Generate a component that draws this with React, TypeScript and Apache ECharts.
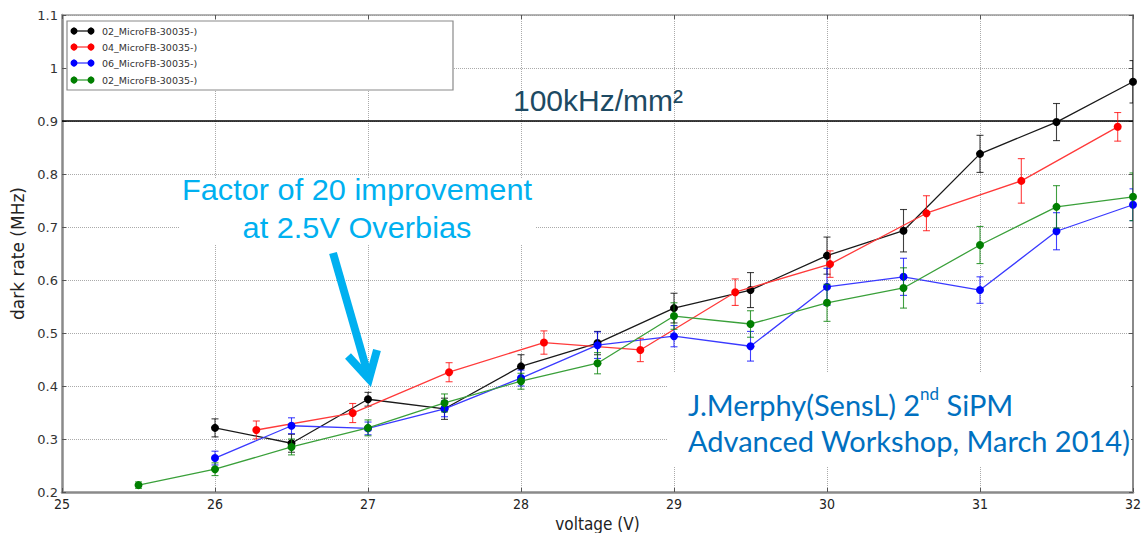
import React, { useEffect, useRef } from "react";
import * as echarts from "echarts";

// ---- data ----
const X_BLACK = [26, 26.5, 27, 27.5, 28, 28.5, 29, 29.5, 30, 30.5, 31, 31.5, 32];
const Y_BLACK = [0.321, 0.292, 0.375, 0.357, 0.437, 0.481, 0.547, 0.581, 0.646, 0.693, 0.838, 0.898, 0.974];
const E_BLACK = [0.017, 0.017, 0.013, 0.02, 0.022, 0.022, 0.028, 0.033, 0.035, 0.04, 0.035, 0.035, 0.04];

const X_RED = [26.27, 26.9, 27.53, 28.15, 28.78, 29.4, 30.02, 30.65, 31.27, 31.9];
const Y_RED = [0.317, 0.349, 0.426, 0.482, 0.468, 0.577, 0.63, 0.726, 0.787, 0.889];
const E_RED = [0.017, 0.018, 0.018, 0.022, 0.022, 0.025, 0.025, 0.033, 0.042, 0.027];

const X_BLUE = [26, 26.5, 27, 27.5, 28, 28.5, 29, 29.5, 30, 30.5, 31, 31.5, 32];
const Y_BLUE = [0.264, 0.325, 0.32, 0.357, 0.415, 0.477, 0.494, 0.475, 0.587, 0.606, 0.581, 0.692, 0.742];
const E_BLUE = [0.013, 0.015, 0.012, 0.015, 0.015, 0.025, 0.02, 0.028, 0.035, 0.035, 0.025, 0.035, 0.03];

const X_GREEN = [25.5, 26, 26.5, 27, 27.5, 28, 28.5, 29, 29.5, 30, 30.5, 31, 31.5, 32];
const Y_GREEN = [0.213, 0.243, 0.285, 0.321, 0.368, 0.409, 0.443, 0.532, 0.517, 0.557, 0.585, 0.666, 0.738, 0.757];
const E_GREEN = [0.006, 0.012, 0.015, 0.015, 0.017, 0.015, 0.02, 0.025, 0.025, 0.035, 0.038, 0.035, 0.04, 0.045];

const SERIES_NAMES = ["02_MicroFB-30035-)", "04_MicroFB-30035-)", "06_MicroFB-30035-)", "02_MicroFB-30035-)"];
const MARKER_COLORS = ["#000000", "#ff0000", "#0000ff", "#007f00"];
const LINE_COLORS = ["#1a1a1a", "#ff3a3a", "#3a3aff", "#3aa03a"];

const X_MIN = 25;
const X_MAX = 32;
const Y_MIN = 0.2;
const Y_MAX = 1.1;
const THRESHOLD = 0.9;

const THRESHOLD_LABEL = "100kHz/mm²";
const FACTOR_LINES = ["Factor of 20 improvement", "at 2.5V Overbias"];

export default function App() {
  const ref = useRef<HTMLDivElement>(null);

  useEffect(() => {
    if (!ref.current) return;
    const chart = echarts.init(ref.current, undefined, { renderer: "svg" });

    const groups = [
      [X_BLACK, Y_BLACK, E_BLACK],
      [X_RED, Y_RED, E_RED],
      [X_BLUE, Y_BLUE, E_BLUE],
      [X_GREEN, Y_GREEN, E_GREEN],
    ];

    const series: any[] = [];
    groups.forEach((g, i) => {
      const [xs, ys, es] = g;
      const pts = xs.map((x, k) => [x, ys[k]]);
      const errs = xs.map((x, k) => [x, ys[k], es[k]]);
      const ec = MARKER_COLORS[i];
      series.push({
        type: "custom",
        name: SERIES_NAMES[i] + "_err",
        z: 3 + i * 2,
        clip: true,
        data: errs,
        encode: { x: 0, y: 1 },
        renderItem: (params: any, api: any) => {
          const x = api.value(0);
          const y = api.value(1);
          const e = api.value(2);
          const hi = api.coord([x, y + e]);
          const lo = api.coord([x, y - e]);
          const cw = 3.5;
          const st = { stroke: ec, lineWidth: 1.1, opacity: 0.75 };
          return {
            type: "group",
            children: [
              { type: "line", shape: { x1: hi[0], y1: hi[1], x2: lo[0], y2: lo[1] }, style: st },
              { type: "line", shape: { x1: hi[0] - cw, y1: hi[1], x2: hi[0] + cw, y2: hi[1] }, style: st },
              { type: "line", shape: { x1: lo[0] - cw, y1: lo[1], x2: lo[0] + cw, y2: lo[1] }, style: st },
            ],
          };
        },
      });
      const s: any = {
        type: "line",
        name: SERIES_NAMES[i],
        z: 4 + i * 2,
        data: pts,
        symbol: "circle",
        symbolSize: 8,
        showSymbol: true,
        lineStyle: { color: LINE_COLORS[i], width: 1.3 },
        itemStyle: { color: ec },
        clip: true,
      };
      if (i === 0) {
        s.markLine = {
          silent: true,
          symbol: ["none", "none"],
          label: { show: false },
          lineStyle: { color: "#000", type: "solid", width: 1.5 },
          data: [{ yAxis: THRESHOLD }],
        };
      }
      series.push(s);
    });

    // legend drawn as graphic (box extends far right as in reference)
    const legendChildren: any[] = [
      {
        type: "rect",
        shape: { x: 67, y: 21, width: 386, height: 69 },
        style: { fill: "#fff", stroke: "#8a8a8a", lineWidth: 1.2 },
        z: 50,
      },
    ];
    const rowsY = [31, 47, 63, 80];
    SERIES_NAMES.forEach((n, i) => {
      const y = rowsY[i];
      const c = MARKER_COLORS[i];
      legendChildren.push(
        { type: "line", shape: { x1: 74, y1: y, x2: 91, y2: y }, style: { stroke: LINE_COLORS[i], lineWidth: 1.3 }, z: 51 },
        { type: "line", shape: { x1: 74, y1: y - 4, x2: 74, y2: y + 4 }, style: { stroke: c, lineWidth: 1, opacity: 0.6 }, z: 51 },
        { type: "line", shape: { x1: 91, y1: y - 4, x2: 91, y2: y + 4 }, style: { stroke: c, lineWidth: 1, opacity: 0.6 }, z: 51 },
        { type: "circle", shape: { cx: 74, cy: y, r: 3.5 }, style: { fill: c }, z: 52 },
        { type: "circle", shape: { cx: 91, cy: y, r: 3.5 }, style: { fill: c }, z: 52 },
        {
          type: "text",
          x: 102,
          y: y,
          style: {
            text: n,
            fill: "#333",
            font: "9.5px 'DejaVu Sans', sans-serif",
            verticalAlign: "middle",
          },
          z: 52,
        }
      );
    });

    const labelFmt = (v: number) => {
      const s = v.toFixed(1);
      return s.endsWith(".0") ? s.slice(0, -2) : s;
    };

    chart.setOption({
      animation: false,
      backgroundColor: "#fff",
      grid: { left: 62, right: 9, top: 15, bottom: 41, show: false, containLabel: false, outerBoundsMode: "none" },
      xAxis: [
        {
          type: "value",
          min: X_MIN,
          max: X_MAX,
          interval: 1,
          name: "voltage (V)",
          nameLocation: "middle",
          nameGap: 19,
          nameTextStyle: { fontSize: 17, color: "#222", fontFamily: "'DejaVu Sans Condensed', 'Liberation Sans Narrow', 'DejaVu Sans', sans-serif" },
          axisLine: { show: true, onZero: false, lineStyle: { color: "#8a8a8a", width: 2.5 } },
          axisTick: { show: true, inside: true, length: 4, lineStyle: { color: "#555" } },
          axisLabel: { fontSize: 14, color: "#222", margin: 5, fontFamily: "'DejaVu Sans Condensed', 'Liberation Sans Narrow', 'DejaVu Sans', sans-serif" },
          splitLine: { show: true, lineStyle: { color: "#aaa", type: "dotted", width: 1 } },
        },
        {
          type: "value",
          position: "top",
          min: X_MIN,
          max: X_MAX,
          interval: 1,
          axisLine: { show: true, onZero: false, lineStyle: { color: "#9a9a9a", width: 1.5 } },
          axisTick: { show: true, inside: true, length: 4, lineStyle: { color: "#555" } },
          axisLabel: { show: false },
          splitLine: { show: false },
        },
      ],
      yAxis: [
        {
          type: "value",
          min: Y_MIN,
          max: Y_MAX,
          interval: 0.1,
          name: "dark rate (MHz)",
          nameLocation: "middle",
          nameGap: 35,
          nameTextStyle: { fontSize: 17, color: "#222", fontFamily: "'DejaVu Sans', sans-serif" },
          axisLine: { show: true, onZero: false, lineStyle: { color: "#8a8a8a", width: 2.5 } },
          axisTick: { show: true, inside: true, length: 4, lineStyle: { color: "#555" } },
          axisLabel: { fontSize: 13, color: "#333", margin: 4, formatter: labelFmt, fontFamily: "'DejaVu Sans', sans-serif" },
          splitLine: { show: true, lineStyle: { color: "#aaa", type: "dotted", width: 1 } },
        },
        {
          type: "value",
          position: "right",
          min: Y_MIN,
          max: Y_MAX,
          interval: 0.1,
          axisLine: { show: true, onZero: false, lineStyle: { color: "#8a8a8a", width: 2 } },
          axisTick: { show: true, inside: true, length: 4, lineStyle: { color: "#555" } },
          axisLabel: { show: false },
          splitLine: { show: false },
        },
      ],
      series,
      graphic: [
        ...legendChildren,
        // white patch behind the factor text
        { type: "rect", shape: { x: 180, y: 178, width: 355, height: 66 }, style: { fill: "#fff" }, z: 1 },
        {
          type: "text",
          x: 357,
          y: 190,
          scaleX: 1.06,
          style: {
            text: FACTOR_LINES[0],
            fill: "#00b0f0",
            font: "29px 'Liberation Sans', Arial, sans-serif",
            align: "center",
            verticalAlign: "middle",
          },
          z: 60,
        },
        {
          type: "text",
          x: 357,
          y: 228,
          scaleX: 1.06,
          style: {
            text: FACTOR_LINES[1],
            fill: "#00b0f0",
            font: "29px 'Liberation Sans', Arial, sans-serif",
            align: "center",
            verticalAlign: "middle",
          },
          z: 60,
        },
        // arrow
        {
          type: "line",
          shape: { x1: 333, y1: 253, x2: 367, y2: 371 },
          style: { stroke: "#00b0f0", lineWidth: 8, lineCap: "butt" },
          z: 60,
        },
        {
          type: "polyline",
          shape: { points: [[348, 356], [369, 379], [377, 350]] },
          style: { stroke: "#00b0f0", lineWidth: 8, lineJoin: "miter", lineCap: "butt", fill: "none" },
          z: 60,
        },
        // threshold label
        {
          type: "text",
          x: 513,
          y: 100,
          style: {
            text: THRESHOLD_LABEL,
            fill: "#1d4a63",
            font: "30px 'Liberation Sans', Arial, sans-serif",
            verticalAlign: "middle",
          },
          z: 60,
        },
        // credit box
        { type: "rect", shape: { x: 668, y: 373, width: 463, height: 93 }, style: { fill: "#fff" }, z: 1 },
        {
          type: "text",
          x: 688,
          y: 402,
          style: {
            text: "{a|J.Merphy(SensL) 2}{s|nd}{a| SiPM}",
            rich: {
              a: { fontSize: 29, fill: "#0070c0", fontFamily: "Lato, 'Open Sans', sans-serif", lineHeight: 34, verticalAlign: "bottom" },
              s: { fontSize: 17, fill: "#0070c0", fontFamily: "Lato, 'Open Sans', sans-serif", lineHeight: 34, verticalAlign: "top", padding: [0, 0, 13, 0] },
            },
            verticalAlign: "middle",
          },
          z: 60,
        },
        {
          type: "text",
          x: 688,
          y: 440,
          style: {
            text: "Advanced Workshop, March 2014)",
            fill: "#0070c0",
            font: "29px Lato, 'Open Sans', sans-serif",
            verticalAlign: "middle",
          },
          z: 60,
        },
      ],
    });

    return () => chart.dispose();
  }, []);

  return (
    <div
      ref={ref}
      style={{ position: "absolute", left: 0, top: 0, width: 1142, height: 533 }}
    />
  );
}
